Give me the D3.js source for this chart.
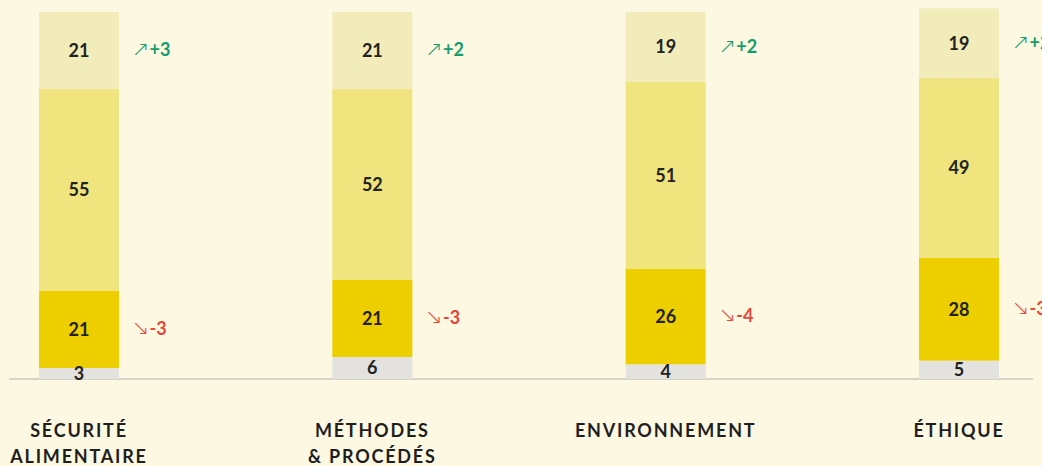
<!DOCTYPE html>
<html>
<head>
<meta charset="utf-8">
<script src="https://cdn.jsdelivr.net/npm/d3@7/dist/d3.min.js"></script>
<style>
  html, body { margin: 0; padding: 0; background: #fdf8e2; }
  svg { display: block; }
  text { font-family: Lato, "Noto Sans", sans-serif; }
</style>
</head>
<body>
<svg id="chart" width="1042" height="466"></svg>
<script>
// Categories (two-line labels) and stacked shares, bottom to top
const categories = ["SÉCURITÉ ALIMENTAIRE", "MÉTHODES & PROCÉDÉS", "ENVIRONNEMENT", "ÉTHIQUE"];
const categoryLines = [["SÉCURITÉ", "ALIMENTAIRE"], ["MÉTHODES", "& PROCÉDÉS"], ["ENVIRONNEMENT"], ["ÉTHIQUE"]];
const sansAvis   = [3, 6, 4, 5];
const peu        = [21, 21, 26, 28];
const assez      = [55, 52, 51, 49];
const beaucoup   = [21, 21, 19, 19];
// Evolution since previous wave, shown beside the top and second segments
const evolutionBeaucoup = [3, 2, 2, 2];
const evolutionPeu      = [-3, -3, -4, -3];

const seriesKeys = ["sansAvis", "peu", "assez", "beaucoup"];
const seriesColors = { sansAvis: "#e3e2df", peu: "#edcf00", assez: "#f0e47f", beaucoup: "#f1ecb9" };

const rows = categories.map((c, i) => ({
  cat: c, sansAvis: sansAvis[i], peu: peu[i], assez: assez[i], beaucoup: beaucoup[i]
}));

const svg = d3.select("#chart");
const x = d3.scaleBand().domain(categories).range([39, 999]).paddingInner(0.7273).paddingOuter(0);
const y = d3.scaleLinear().domain([0, 100]).range([379, 12]);

const stack = d3.stack().keys(seriesKeys)(rows);

// baseline
svg.append("line")
  .attr("x1", 9).attr("x2", 1033).attr("y1", 379).attr("y2", 379)
  .attr("stroke", "#d6d3cb").attr("stroke-width", 2);

const layers = svg.selectAll("g.layer").data(stack).join("g")
  .attr("class", "layer").attr("fill", d => seriesColors[d.key]);

layers.selectAll("rect").data(d => d).join("rect")
  .attr("x", d => x(d.data.cat))
  .attr("width", x.bandwidth())
  .attr("y", d => y(d[1]))
  .attr("height", d => y(d[0]) - y(d[1]));

// value labels inside each segment
stack.forEach(layer => {
  svg.append("g").selectAll("text").data(layer).join("text")
    .attr("x", d => x(d.data.cat) + x.bandwidth() / 2)
    .attr("y", d => (y(d[0]) + y(d[1])) / 2)
    .attr("text-anchor", "middle")
    .attr("dy", "0.36em")
    .attr("font-size", 18)
    .attr("font-weight", 700)
    .attr("fill", "#222")
    .text(d => d[1] - d[0]);
});

// evolution labels
function evolution(layerKey, values, color, arrow) {
  const layer = stack.find(l => l.key === layerKey);
  const g = svg.append("g").selectAll("text").data(layer).join("text")
    .attr("x", d => x(d.data.cat) + x.bandwidth() + 13)
    .attr("y", d => (y(d[0]) + y(d[1])) / 2)
    .attr("dy", "0.36em")
    .attr("fill", color);
  g.append("tspan")
    .attr("font-family", "'DejaVu Sans', sans-serif")
    .attr("font-size", 21)
    .attr("font-weight", 200)
    .text(arrow);
  g.append("tspan")
    .attr("font-size", 18)
    .attr("font-weight", 700)
    .text((d, i) => (values[i] > 0 ? "+" : "-") + Math.abs(values[i]));
}
evolution("beaucoup", evolutionBeaucoup, "#139c6c", "↗");
evolution("peu", evolutionPeu, "#e4473b", "↘");

// category labels
svg.append("g").selectAll("text").data(categories).join("text")
  .attr("x", d => x(d) + x.bandwidth() / 2)
  .attr("y", 437)
  .attr("text-anchor", "middle")
  .attr("font-size", 18)
  .attr("font-weight", 700)
  .attr("letter-spacing", "1.8px")
  .attr("fill", "#1e1e1e")
  .each(function(d, i) {
    d3.select(this).selectAll("tspan").data(categoryLines[i]).join("tspan")
      .attr("x", x(d) + x.bandwidth() / 2)
      .attr("dy", (t, j) => j === 0 ? 0 : 26)
      .text(t => t);
  });
</script>
</body>
</html>
